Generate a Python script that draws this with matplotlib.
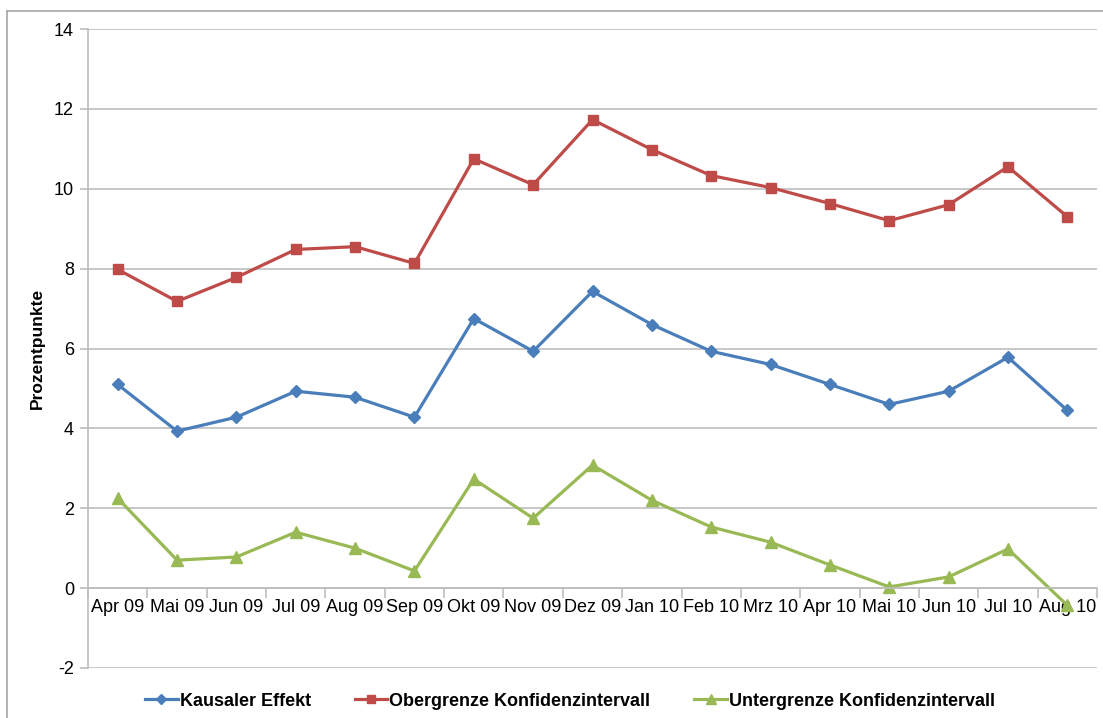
import matplotlib
matplotlib.use("Agg")
import matplotlib.pyplot as plt
from matplotlib.lines import Line2D
import numpy as np

months = ["Apr 09", "Mai 09", "Jun 09", "Jul 09", "Aug 09", "Sep 09", "Okt 09", "Nov 09",
          "Dez 09", "Jan 10", "Feb 10", "Mrz 10", "Apr 10", "Mai 10", "Jun 10", "Jul 10", "Aug 10"]
kausal = [5.10, 3.93, 4.28, 4.93, 4.78, 4.28, 6.75, 5.93, 7.43, 6.60, 5.93, 5.60, 5.10, 4.60, 4.93, 5.78, 4.45]
ober = [7.98, 7.18, 7.78, 8.48, 8.55, 8.13, 10.75, 10.10, 11.73, 10.98, 10.33, 10.03, 9.63, 9.20, 9.60, 10.55, 9.30]
unter = [2.25, 0.70, 0.78, 1.40, 1.00, 0.43, 2.73, 1.75, 3.08, 2.20, 1.53, 1.15, 0.58, 0.03, 0.28, 0.98, -0.43]
names = ["Kausaler Effekt", "Obergrenze Konfidenzintervall", "Untergrenze Konfidenzintervall"]
colors = ["#4A7EBB", "#BE4B48", "#98B954"]
markers = ["D", "s", "^"]
msizes = [6, 7.5, 8]

plt.rcParams['font.family'] = ['Liberation Sans', 'DejaVu Sans']
plt.rcParams['axes.unicode_minus'] = False

fig = plt.figure(figsize=(11.03, 7.18), dpi=100)
ax = fig.add_axes([88/1103, 1-668/718, (1097-88)/1103, (668-29)/718])

x = np.arange(len(months))
for vals, c, m, ms in zip([kausal, ober, unter], colors, markers, msizes):
    ax.plot(x, vals, color=c, lw=2.3, marker=m, markersize=ms, markeredgecolor=c, markerfacecolor=c)

ax.set_xlim(-0.5, len(months) - 0.5)
ax.set_ylim(-2, 14)
ax.set_yticks(np.arange(-2, 15, 2))
ax.yaxis.grid(True, color="#BEBEBE", lw=1.2)
ax.set_axisbelow(True)
ax.tick_params(axis='y', length=6, color="#BEBEBE", width=1.2, labelsize=13, pad=4)

ax.set_xticks(np.arange(-0.5, len(months), 1.0))
ax.set_xticklabels([])
ax.set_xticks(x, minor=True)
ax.set_xticklabels(months, minor=True)
ax.tick_params(axis='x', which='major', length=7, color="#BEBEBE", width=1.2, direction='out')
ax.tick_params(axis='x', which='minor', length=0, pad=8, labelsize=13)

for s in ['top', 'right']:
    ax.spines[s].set_visible(False)
ax.spines['bottom'].set_position(('data', 0))
ax.spines['bottom'].set_color("#BEBEBE")
ax.spines['bottom'].set_linewidth(1.2)
ax.spines['left'].set_color("#BEBEBE")
ax.spines['left'].set_linewidth(1.2)

ax.set_ylabel("Prozentpunkte", fontsize=12.5, fontweight='bold')
ax.yaxis.set_label_coords((45 - 88) / 1009, 0.5)

# outer chart frame
fig.add_artist(Line2D([7/1103, 1.0], [1-11/718, 1-11/718], color="#A6A6A6", lw=1.2))
fig.add_artist(Line2D([7/1103, 7/1103], [0, 1-11/718], color="#A6A6A6", lw=1.2))

handles = [Line2D([], [], color=c, lw=2.3, marker=m, markersize=ms*0.85, markerfacecolor=c, markeredgecolor=c)
           for c, m, ms in zip(colors, markers, msizes)]
fig.legend(handles, names, loc='center', bbox_to_anchor=(570/1103, 1-701/718), ncol=3, frameon=False,
           prop={'weight': 'bold', 'size': 13}, handlelength=1.8, handletextpad=0.1, columnspacing=2.45)

fig.savefig("out.png", dpi=100)
